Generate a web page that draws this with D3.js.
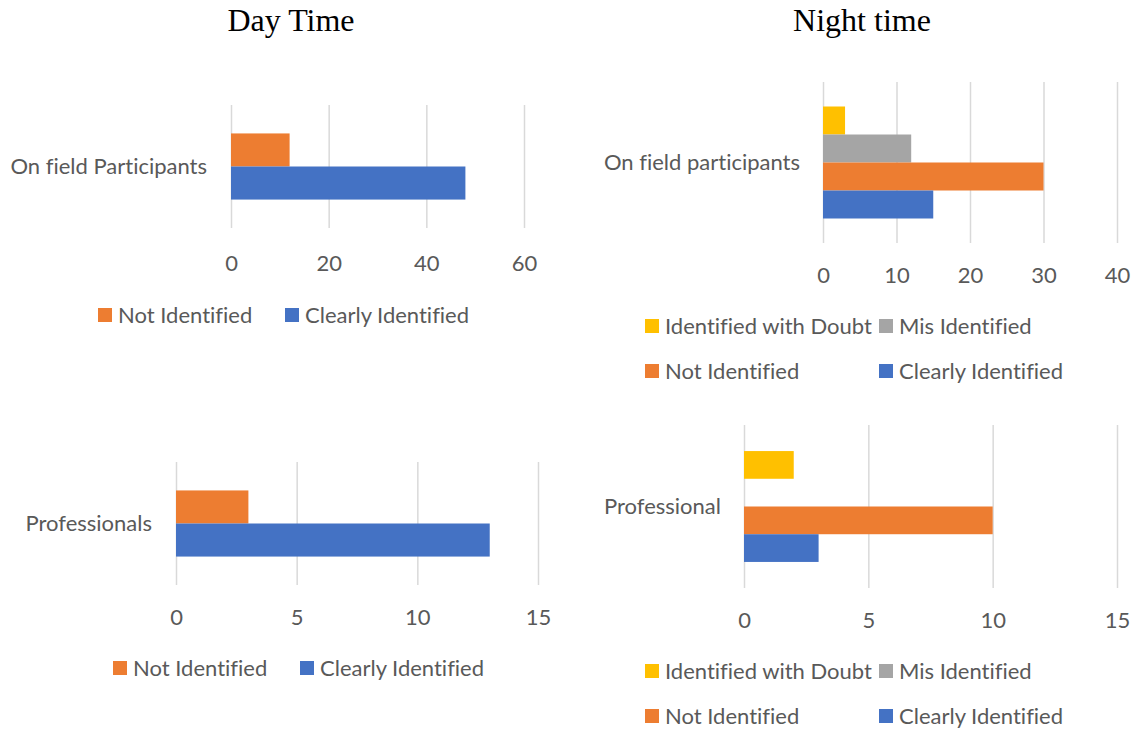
<!DOCTYPE html>
<html>
<head>
<meta charset="utf-8">
<script src="https://cdn.jsdelivr.net/npm/d3@7/dist/d3.min.js"></script>
<style>
  html, body { margin: 0; padding: 0; background: #fff; }
  svg { display: block; }
  text { font-variant-ligatures: none; }
</style>
</head>
<body>
<svg id="chart" width="1137" height="729"></svg>
<script>
// ---- data ----
const titles = ["Day Time", "Night time"];
const dayCategories = ["On field Participants", "Professionals"];
const nightCategories = ["On field participants", "Professional"];
const daySeries = ["Not Identified", "Clearly Identified"];
const nightSeries = ["Identified with Doubt", "Mis Identified", "Not Identified", "Clearly Identified"];
const dayOnFieldValues = [12, 48];
const dayProfessionalsValues = [3, 13];
const nightOnFieldValues = [3, 12, 30, 15];
const nightProfessionalValues = [2, 0, 10, 3];
const dayOnFieldTicks = [0, 20, 40, 60];
const dayProfessionalsTicks = [0, 5, 10, 15];
const nightOnFieldTicks = [0, 10, 20, 30, 40];
const nightProfessionalTicks = [0, 5, 10, 15];

const seriesColors = {
  "Identified with Doubt": "#FFC000",
  "Mis Identified": "#A5A5A5",
  "Not Identified": "#ED7D31",
  "Clearly Identified": "#4472C4"
};

const FONT = "Lato, 'Open Sans', sans-serif";
const FS = 22;
const TXT = "#595959";

const svg = d3.select("#chart");

// titles
[[titles[0], 291], [titles[1], 862]].forEach(([t, cx]) => {
  svg.append("text").attr("x", cx).attr("y", 31).attr("text-anchor", "middle")
    .attr("font-family", "'Liberation Serif', 'Times New Roman', serif").attr("font-size", 32)
    .attr("fill", "#000").text(t);
});

const panels = [
  { category: dayCategories[0], series: daySeries, values: dayOnFieldValues, ticks: dayOnFieldTicks,
    x0: 231, x1: 524, y0: 105, y1: 228, tickY: 271, labelRight: 207, pad: 0.86,
    legendRows: [[daySeries[0], daySeries[1]]], legendX: [98, 285], legendY: [315] },
  { category: nightCategories[0], series: nightSeries, values: nightOnFieldValues, ticks: nightOnFieldTicks,
    x0: 823, x1: 1117, y0: 82, y1: 243, tickY: 283, labelRight: 800, pad: 0.875,
    legendRows: [[nightSeries[0], nightSeries[1]], [nightSeries[2], nightSeries[3]]], legendX: [645, 879], legendY: [326, 371] },
  { category: dayCategories[1], series: daySeries, values: dayProfessionalsValues, ticks: dayProfessionalsTicks,
    x0: 176, x1: 538, y0: 462, y1: 585, tickY: 625, labelRight: 152, pad: 0.86,
    legendRows: [[daySeries[0], daySeries[1]]], legendX: [113, 300], legendY: [668] },
  { category: nightCategories[1], series: nightSeries, values: nightProfessionalValues, ticks: nightProfessionalTicks,
    x0: 744, x1: 1117, y0: 425, y1: 588, tickY: 628, labelRight: 721, pad: 0.94,
    legendRows: [[nightSeries[0], nightSeries[1]], [nightSeries[2], nightSeries[3]]], legendX: [645, 879], legendY: [671, 716] }
];

panels.forEach(p => {
  const g = svg.append("g");
  const x = d3.scaleLinear().domain([0, d3.max(p.ticks)]).range([p.x0, p.x1]);
  const yCat = d3.scaleBand().domain([p.category]).range([p.y0, p.y1]);
  const y = d3.scaleBand().domain(p.series).range([p.y0, p.y1]).paddingInner(0).paddingOuter(p.pad);

  // gridlines
  const grid = g.append("g").attr("transform", `translate(0,${p.y1})`)
    .call(d3.axisBottom(x).tickValues(p.ticks).tickSize(-(p.y1 - p.y0)).tickFormat(""));
  grid.select(".domain").remove();
  grid.selectAll(".tick line").attr("stroke", "#D9D9D9").attr("stroke-width", 1.5);

  // bars
  g.append("g").selectAll("rect").data(p.series.map((s, i) => ({ s, v: p.values[i] })))
    .join("rect")
    .attr("x", x(0))
    .attr("y", d => y(d.s))
    .attr("width", d => x(d.v) - x(0))
    .attr("height", y.bandwidth())
    .attr("fill", d => seriesColors[d.s]);

  // tick labels
  const ax = g.append("g").attr("transform", `translate(0,${p.tickY})`)
    .call(d3.axisBottom(x).tickValues(p.ticks).tickSize(0).tickPadding(0));
  ax.select(".domain").remove();
  ax.selectAll("text").attr("font-family", FONT).attr("font-size", FS).attr("fill", TXT).attr("dy", 0);

  // category label
  g.append("text").attr("x", p.labelRight).attr("y", yCat(p.category) + yCat.bandwidth() / 2)
    .attr("dy", "0.35em").attr("text-anchor", "end")
    .attr("font-family", FONT).attr("font-size", FS).attr("fill", TXT).text(p.category);

  // legend
  p.legendRows.forEach((row, ri) => {
    row.forEach((s, ci) => {
      const lx = p.legendX[ci], ly = p.legendY[ri];
      g.append("rect").attr("x", lx).attr("y", ly - 7).attr("width", 14).attr("height", 14)
        .attr("fill", seriesColors[s]);
      g.append("text").attr("x", lx + 20).attr("y", ly).attr("dy", "0.35em")
        .attr("font-family", FONT).attr("font-size", FS).attr("fill", TXT).text(s);
    });
  });
});
</script>
</body>
</html>
